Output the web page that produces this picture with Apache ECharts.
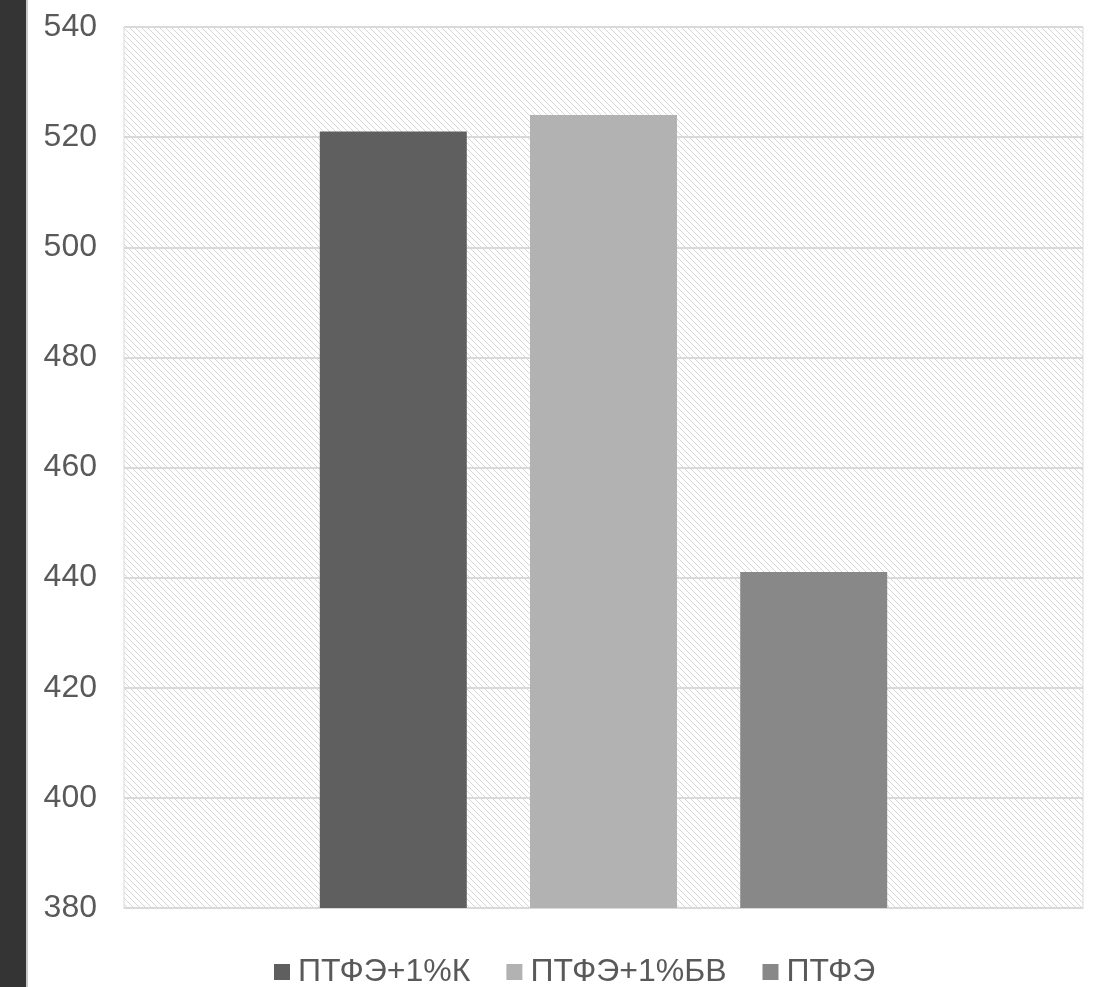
<!DOCTYPE html>
<html>
<head>
<meta charset="utf-8">
<script src="https://cdn.jsdelivr.net/npm/echarts@6/dist/echarts.min.js"></script>
<style>
html,body{margin:0;padding:0;background:#fff;}
#main{width:1107px;height:987px;}
</style>
</head>
<body>
<div id="main"></div>
<script>
const categories = [''];
const seriesNames = ['ПТФЭ+1%К', 'ПТФЭ+1%БВ', 'ПТФЭ'];
const seriesValues = [[521], [524], [441]];
const seriesColors = ['#5f5f5f', '#b2b2b2', '#888888'];
const yTicks = { min: 380, max: 540, interval: 20 };

function makePattern() {
  const c = document.createElement('canvas');
  const n = 6;
  c.width = n; c.height = n;
  const ctx = c.getContext('2d');
  ctx.fillStyle = '#ffffff';
  ctx.fillRect(0, 0, n, n);
  ctx.fillStyle = '#d6d6d6';
  for (let i = 0; i < n; i++) {
    ctx.fillRect(i, i, 1, 1);
  }
  return c;
}

const chart = echarts.init(document.getElementById('main'));
const option = {
  backgroundColor: '#ffffff',
  animation: false,
  graphic: [
    { type: 'rect', left: 0, top: 0, shape: { width: 26, height: 987 }, style: { fill: '#343434' } },
    { type: 'rect', left: 26, top: 0, shape: { width: 2, height: 987 }, style: { fill: '#c8c8c8' } }
  ],
  grid: {
    left: 124, top: 27, right: 24, bottom: 79,
    show: true,
    backgroundColor: { image: makePattern(), repeat: 'repeat' },
    borderColor: '#d9d9d9',
    borderWidth: 1
  },
  legend: {
    top: 956,
    left: 274,
    padding: 0,
    itemWidth: 16,
    itemHeight: 16,
    itemGap: 36,
    icon: 'rect',
    textStyle: { fontFamily: 'Liberation Sans, Arial, sans-serif', fontSize: 32, lineHeight: 32, color: '#595959', padding: [0, 0, 0, 3] },
    data: seriesNames
  },
  xAxis: {
    type: 'category',
    data: categories,
    axisLine: { show: true, lineStyle: { color: '#d9d9d9' } },
    axisTick: { show: false },
    axisLabel: { show: false }
  },
  yAxis: {
    type: 'value',
    min: yTicks.min,
    max: yTicks.max,
    interval: yTicks.interval,
    axisLine: { show: false },
    axisTick: { show: false },
    splitLine: { show: true, lineStyle: { color: '#d9d9d9', width: 2 } },
    axisLabel: { fontFamily: 'Liberation Sans, Arial, sans-serif', fontSize: 32, color: '#595959', margin: 27 }
  },
  series: seriesNames.map((name, i) => ({
    name: name,
    type: 'bar',
    data: seriesValues[i],
    barWidth: 147,
    barGap: '43%',
    itemStyle: { color: seriesColors[i] }
  }))
};
chart.setOption(option);
</script>
</body>
</html>
